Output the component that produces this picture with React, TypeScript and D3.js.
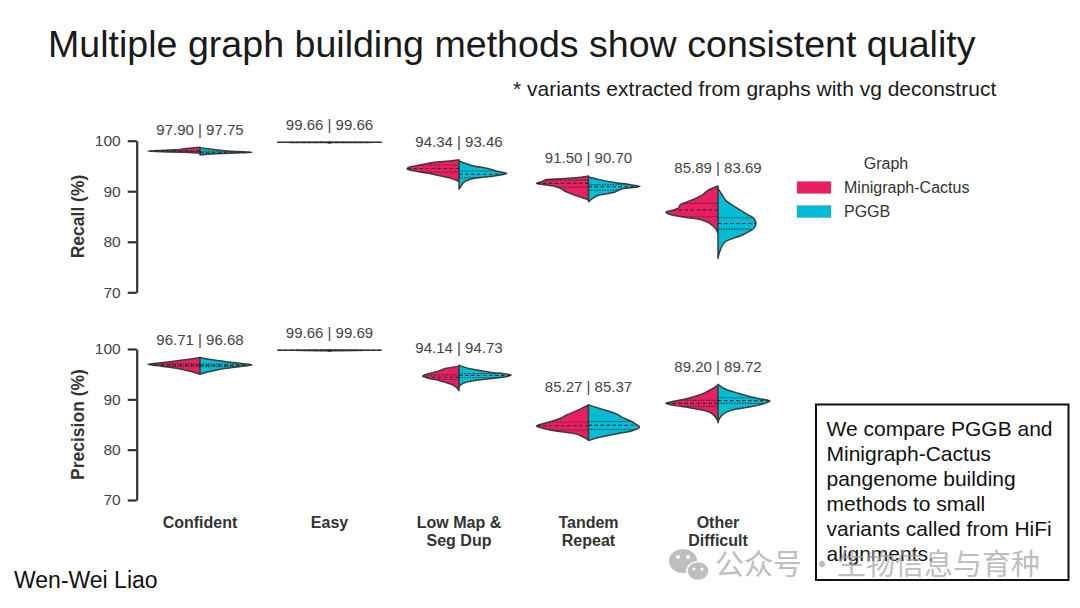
import React, { useEffect, useRef } from "react";
import * as d3 from "d3";

// categories and groups
const categories = ["Confident", "Easy", "Low Map & Seg Dup", "Tandem Repeat", "Other Difficult"];
const categoryLines = [["Confident"], ["Easy"], ["Low Map &", "Seg Dup"], ["Tandem", "Repeat"], ["Other", "Difficult"]];
const groups = ["Minigraph-Cactus", "PGGB"];
const groupColors = ["#E91E63", "#00BCD4"];

// summary values printed above each violin
const recallMgc = [97.9, 99.66, 94.34, 91.5, 85.89];
const recallPggb = [97.75, 99.66, 93.46, 90.7, 83.69];
const precisionMgc = [96.71, 99.66, 94.14, 85.27, 89.2];
const precisionPggb = [96.68, 99.69, 94.73, 85.37, 89.72];

// density profiles: [value, relative density]
const recallDensMgc = [
  [[97.5, 0], [97.7, 0.3], [97.85, 0.85], [97.95, 1], [98.05, 0.8], [98.2, 0.5], [98.4, 0.3], [98.7, 0]],
  [[99.52, 0], [99.62, 0.06], [99.66, 0.5], [99.68, 1], [99.71, 0]],
  [[91.9, 0], [92.4, 0.11], [93.35, 0.5], [94.0, 0.85], [94.4, 1], [94.8, 0.95], [95.2, 0.75], [95.7, 0.5], [96.1, 0.11], [96.25, 0]],
  [[88.3, 0], [88.9, 0.17], [89.9, 0.43], [90.9, 0.62], [91.3, 0.85], [91.55, 1], [91.9, 0.9], [92.3, 0.8], [92.6, 0.3], [93.0, 0]],
  [[81.7, 0], [83.0, 0.08], [84.3, 0.31], [84.95, 0.7], [85.5, 0.95], [85.85, 1], [86.3, 0.85], [86.8, 0.75], [87.3, 0.73], [88.26, 0.5], [89.3, 0.3], [90.24, 0.18], [91.03, 0]],
];
const recallDensPggb = [
  [[97.15, 0], [97.4, 0.3], [97.6, 0.8], [97.7, 1], [97.85, 0.7], [98.1, 0.4], [98.35, 0.2], [98.6, 0]],
  [[99.52, 0], [99.62, 0.06], [99.66, 0.5], [99.68, 1], [99.71, 0]],
  [[90.4, 0], [91.2, 0.05], [91.9, 0.11], [92.55, 0.3], [92.9, 0.59], [93.3, 0.85], [93.55, 0.92], [93.9, 0.75], [94.4, 0.59], [95.05, 0.27], [95.6, 0.1], [96.0, 0]],
  [[87.9, 0], [88.6, 0.08], [89.25, 0.21], [89.8, 0.5], [90.2, 0.58], [90.5, 0.65], [90.95, 0.99], [91.3, 0.8], [91.7, 0.53], [92.3, 0.21], [92.8, 0]],
  [[76.7, 0], [78.4, 0.045], [80.0, 0.14], [81.3, 0.46], [82.65, 0.69], [83.6, 0.73], [84.6, 0.69], [85.6, 0.53], [86.9, 0.33], [88.0, 0.17], [89.25, 0.08], [90.57, 0]],
];
const precisionDensMgc = [
  [[95.0, 0], [95.5, 0.16], [96.36, 0.58], [96.7, 0.85], [96.95, 1], [97.2, 0.8], [97.48, 0.58], [97.9, 0.25], [98.3, 0]],
  [[99.55, 0], [99.66, 0.06], [99.72, 0.5], [99.75, 1], [99.78, 0]],
  [[91.7, 0], [92.84, 0.11], [93.7, 0.37], [94.3, 0.62], [94.6, 0.7], [94.9, 0.65], [95.69, 0.37], [96.16, 0.24], [96.6, 0]],
  [[81.9, 0], [82.4, 0.08], [83.24, 0.3], [83.9, 0.74], [84.3, 0.9], [84.7, 1], [85.1, 0.9], [85.55, 0.74], [86.2, 0.55], [86.88, 0.42], [88.0, 0.17], [88.87, 0]],
  [[85.55, 0], [86.5, 0.05], [87.53, 0.18], [88.4, 0.57], [88.8, 0.85], [89.2, 1], [89.6, 0.85], [90.2, 0.57], [91.0, 0.32], [91.7, 0.18], [92.84, 0]],
];
const precisionDensPggb = [
  [[95.0, 0], [95.5, 0.17], [96.16, 0.5], [96.6, 0.85], [96.85, 1], [97.1, 0.8], [97.48, 0.5], [97.9, 0.2], [98.3, 0]],
  [[99.55, 0], [99.66, 0.06], [99.72, 0.5], [99.75, 1], [99.78, 0]],
  [[92.5, 0], [93.18, 0.08], [93.7, 0.27], [94.17, 0.66], [94.5, 0.9], [94.83, 1], [95.1, 0.85], [95.3, 0.66], [95.96, 0.27], [96.4, 0.1], [96.8, 0]],
  [[81.8, 0], [82.24, 0.13], [83.1, 0.52], [83.77, 0.84], [84.2, 0.95], [84.55, 0.98], [85.0, 0.92], [85.55, 0.84], [86.4, 0.65], [87.2, 0.52], [88.2, 0.21], [88.9, 0]],
  [[85.35, 0], [86.55, 0.05], [87.9, 0.28], [88.67, 0.7], [89.2, 0.9], [89.7, 1], [90.2, 0.75], [91.2, 0.39], [92.0, 0.15], [93.0, 0]],
];

// quartiles [q1, median, q3]
const recallQMgc = [[97.8, 97.92, 98.05], [99.66, 99.67, 99.68], [93.8, 94.5, 95.2], [90.8, 91.56, 92.2], [84.95, 86.3, 87.6]];
const recallQPggb = [[97.5, 97.72, 97.9], [99.66, 99.67, 99.68], [92.7, 93.35, 94.0], [90.2, 90.9, 91.3], [82.5, 83.6, 84.75]];
const precisionQMgc = [[96.55, 96.8, 97.05], [99.73, 99.75, 99.76], [93.95, 94.4, 94.85], [83.9, 84.75, 85.5], [88.6, 89.2, 89.8]];
const precisionQPggb = [[96.5, 96.75, 97.0], [99.73, 99.75, 99.76], [94.35, 94.75, 95.1], [84.0, 84.85, 85.6], [89.2, 89.75, 90.3]];

const yTicks = [70, 80, 90, 100];

const noteLines = [
  "We compare PGGB and",
  "Minigraph-Cactus",
  "pangenome building",
  "methods to small",
  "variants called from HiFi",
  "alignments.",
];

const font = "'Liberation Sans', Arial, Helvetica, sans-serif";

const x = d3.scalePoint().domain(categories).range([200, 718]);
const halfW = d3.scaleLinear().domain([0, 1]).range([0, 52]);

const densAt = (prof, v) => {
  for (let i = 1; i < prof.length; i++) {
    const [v0, d0] = prof[i - 1];
    const [v1, d1] = prof[i];
    if (v >= v0 && v <= v1) return d0 + ((v - v0) / (v1 - v0)) * (d1 - d0);
  }
  return 0;
};

const YAxis = ({ y, title }) => {
  const ref = useRef(null);
  useEffect(() => {
    const g = d3.select(ref.current);
    g.call(d3.axisLeft(y).tickValues(yTicks).tickSize(9).tickSizeOuter(0).tickPadding(7));
    g.select(".domain").attr("stroke", "#333").attr("stroke-width", 2.2);
    g.selectAll(".tick line").attr("stroke", "#333").attr("stroke-width", 2.2);
    g.selectAll(".tick text")
      .attr("fill", "#444")
      .attr("font-size", 15.5)
      .attr("font-family", font);
  }, [y]);
  const [r0, r1] = y.range();
  return (
    <g>
      <g ref={ref} transform="translate(136.7,0)" />
      <text
        transform={`translate(84,${(r0 + r1) / 2}) rotate(-90)`}
        textAnchor="middle"
        fontSize={17.5}
        fontWeight="bold"
        fill="#333"
      >
        {title}
      </text>
    </g>
  );
};

const Panel = ({ y, title, densL, densR, qL, qR, labL, labR }) => {
  return (
    <g>
      <YAxis y={y} title={title} />
      {categories.map((c, i) => {
        const cx = x(c);
        const left = d3
          .area()
          .y((d) => y(d[0]))
          .x0(cx)
          .x1((d) => cx - halfW(d[1]))
          .curve(d3.curveMonotoneY)(densL[i]);
        const right = d3
          .area()
          .y((d) => y(d[0]))
          .x0(cx)
          .x1((d) => cx + halfW(d[1]))
          .curve(d3.curveMonotoneY)(densR[i]);
        const top = Math.max(densL[i][densL[i].length - 1][0], densR[i][densR[i].length - 1][0]);
        return (
          <g key={c}>
            <path d={left} fill={groupColors[0]} stroke="#3d3d3d" strokeWidth={1.5} strokeLinejoin="round" />
            <path d={right} fill={groupColors[1]} stroke="#3d3d3d" strokeWidth={1.5} strokeLinejoin="round" />
            {qL[i].map((q, k) => (
              <line
                key={"l" + k}
                x1={cx}
                x2={cx - halfW(densAt(densL[i], q))}
                y1={y(q)}
                y2={y(q)}
                stroke="#2a2a2a"
                strokeWidth={1.1}
                strokeDasharray={k === 1 ? "3.5,2.5" : "1.2,1.5"}
              />
            ))}
            {qR[i].map((q, k) => (
              <line
                key={"r" + k}
                x1={cx}
                x2={cx + halfW(densAt(densR[i], q))}
                y1={y(q)}
                y2={y(q)}
                stroke="#2a2a2a"
                strokeWidth={1.1}
                strokeDasharray={k === 1 ? "3.5,2.5" : "1.2,1.5"}
              />
            ))}
            <text x={cx} y={y(top + 2.5)} textAnchor="middle" fontSize={15} fill="#444">
              {`${labL[i].toFixed(2)} | ${labR[i].toFixed(2)}`}
            </text>
          </g>
        );
      })}
    </g>
  );
};

const App = () => {
  const yRecall = d3.scaleLinear().domain([70, 100]).range([292.3, 140.7]);
  const yPrecision = d3.scaleLinear().domain([70, 100]).range([500, 349]);

  return (
    <svg
      width={1080}
      height={608}
      style={{ position: "absolute", left: 0, top: 0, background: "#fff" }}
      fontFamily={font}
    >
      <rect width={1080} height={608} fill="#fff" />
      <text x={48} y={57} fontSize={37.6} fill="#1a1a1a">
        Multiple graph building methods show consistent quality
      </text>
      <text x={513} y={96} fontSize={21} fill="#1a1a1a">
        * variants extracted from graphs with vg deconstruct
      </text>

      <Panel
        y={yRecall}
        title="Recall (%)"
        densL={recallDensMgc}
        densR={recallDensPggb}
        qL={recallQMgc}
        qR={recallQPggb}
        labL={recallMgc}
        labR={recallPggb}
      />
      <Panel
        y={yPrecision}
        title="Precision (%)"
        densL={precisionDensMgc}
        densR={precisionDensPggb}
        qL={precisionQMgc}
        qR={precisionQPggb}
        labL={precisionMgc}
        labR={precisionPggb}
      />

      {categories.map((c, i) => (
        <text key={c} x={x(c)} y={528} textAnchor="middle" fontSize={16} fontWeight="bold" fill="#333">
          {categoryLines[i].map((l, k) => (
            <tspan key={k} x={x(c)} dy={k === 0 ? 0 : 17.5}>
              {l}
            </tspan>
          ))}
        </text>
      ))}

      {/* legend */}
      <text x={886} y={169} textAnchor="middle" fontSize={16} fill="#333">
        Graph
      </text>
      {groups.map((g, i) => (
        <g key={g} transform={`translate(797,${181.5 + i * 24})`}>
          <rect width={34} height={12} fill={groupColors[i]} stroke="#888" strokeWidth={0.4} />
          <text x={47} y={11} fontSize={16} fill="#333">
            {g}
          </text>
        </g>
      ))}

      {/* note box */}
      <rect x={816} y={404.5} width={252.5} height={175.5} fill="#fff" stroke="#111" strokeWidth={2} />
      {noteLines.map((l, i) => (
        <text key={i} x={826.5} y={435.5 + i * 25} fontSize={21} fill="#111">
          {l}
        </text>
      ))}

      <text x={14} y={588} fontSize={23} fill="#111">
        Wen-Wei Liao
      </text>

      {/* watermark */}
      <g fill="#a3a3a3" opacity={0.7}>
        <ellipse cx={683} cy={561} rx={14} ry={12} />
        <ellipse cx={698} cy={571} rx={11} ry={9.5} stroke="#fff" strokeWidth={1.5} />
        <circle cx={678} cy={557} r={2} fill="#fff" />
        <circle cx={688} cy={557} r={2} fill="#fff" />
        <circle cx={694} cy={569} r={1.6} fill="#fff" />
        <circle cx={702} cy={569} r={1.6} fill="#fff" />
        <text x={715} y={575} fontSize={29} fontFamily="'Noto Sans CJK SC', sans-serif">
          公众号
        </text>
        <text x={822} y={575} fontSize={29} textAnchor="middle" fontFamily="'Noto Sans CJK SC', sans-serif">
          ·
        </text>
        <text x={837} y={575} fontSize={29} fontFamily="'Noto Sans CJK SC', sans-serif">
          生物信息与育种
        </text>
      </g>
    </svg>
  );
};

export default App;
